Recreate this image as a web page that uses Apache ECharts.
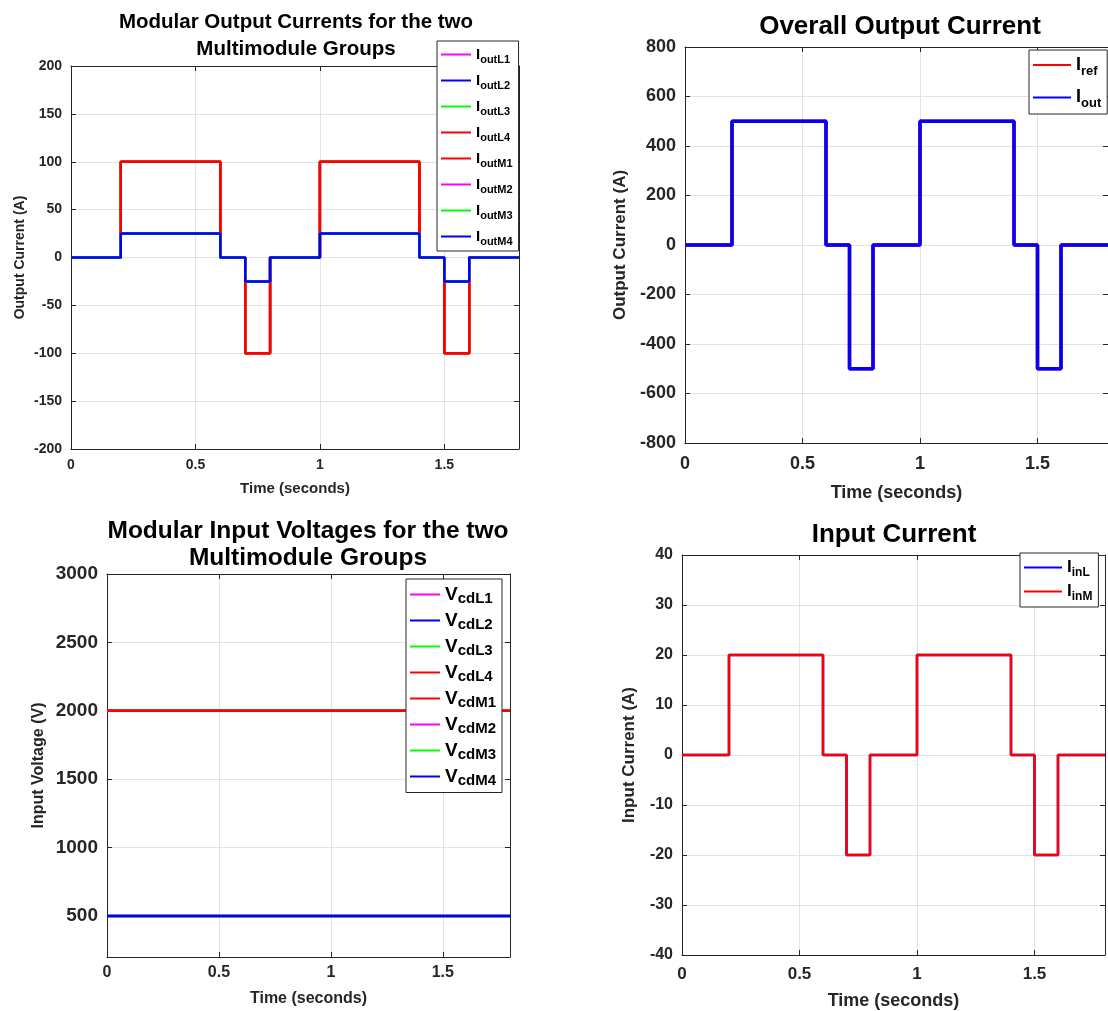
<!DOCTYPE html>
<html>
<head>
<meta charset="utf-8">
<script src="https://cdn.jsdelivr.net/npm/echarts@6/dist/echarts.min.js"></script>
<style>
  html, body { margin: 0; padding: 0; background: #fff; }
  #box { width: 1108px; height: 1011px; }
</style>
</head>
<body>
<div id="box"></div>
<script>
// time breakpoints of the step waveforms (seconds)
const tSteps = [0, 0.2, 0.6, 0.7, 0.8, 1.0, 1.4, 1.5, 1.6, 1.8];
const tFlat = [0, 1.8];

// modular output currents
const iModHigh = [0, 100, 0, -100, 0, 100, 0, -100, 0, 0];
const iModLow = [0, 25, 0, -25, 0, 25, 0, -25, 0, 0];
// overall output current
const iRef = [0, 500, 0, -500, 0, 500, 0, -500, 0, 0];
const iOut = [0, 500, 0, -500, 0, 500, 0, -500, 0, 0];
// modular input voltages
const vCdHigh = [2000, 2000];
const vCdLow = [500, 500];
// input currents
const iInL = [0, 20, 0, -20, 0, 20, 0, -20, 0, 0];
const iInM = [0, 20, 0, -20, 0, 20, 0, -20, 0, 0];

const modNames = ["I_outL1", "I_outL2", "I_outL3", "I_outL4", "I_outM1", "I_outM2", "I_outM3", "I_outM4"];
const modColors = ["#ff00ff", "#0000ff", "#00ff00", "#ff0000", "#ff0000", "#ff00ff", "#00ff00", "#0000ff"];
const modValues = [iModHigh, iModLow, iModHigh, iModHigh, iModHigh, iModLow, iModLow, iModLow];

const vNames = ["V_cdL1", "V_cdL2", "V_cdL3", "V_cdL4", "V_cdM1", "V_cdM2", "V_cdM3", "V_cdM4"];
const vValues = [vCdHigh, vCdLow, vCdHigh, vCdHigh, vCdHigh, vCdLow, vCdLow, vCdLow];

const xTicks = [0, 0.5, 1, 1.5];
const yTicks1 = [-200, -150, -100, -50, 0, 50, 100, 150, 200];
const yTicks2 = [-800, -600, -400, -200, 0, 200, 400, 600, 800];
const yTicks3 = [500, 1000, 1500, 2000, 2500, 3000];
const yTicks4 = [-40, -30, -20, -10, 0, 10, 20, 30, 40];

const FONT = "Liberation Sans, Arial, sans-serif";
const INK = "#262626";

function pair(t, v) {
  return t.map((x, i) => [x, v[i]]);
}

const myChart = echarts.init(document.getElementById("box"));

// x axes: bottom (labelled) + top (box edge)
function xPair(gi, fs, margin, nameGap, nameFs) {
  return [
    {
      type: "value", gridIndex: gi, min: 0, max: 1.8, position: "bottom",
      name: "Time (seconds)", nameLocation: "middle", nameGap: nameGap,
      nameTextStyle: { fontFamily: FONT, fontWeight: "bold", fontSize: nameFs, color: INK },
      axisLine: { onZero: false, lineStyle: { color: INK, width: 1 } },
      axisTick: { inside: true, length: 5, customValues: xTicks, lineStyle: { color: INK } },
      axisLabel: { customValues: xTicks, formatter: (v) => String(v), fontFamily: FONT, fontWeight: "bold", fontSize: fs, color: INK, margin: margin },
      splitLine: { show: true, lineStyle: { color: "#e3e3e3" } },
    },
    {
      type: "value", gridIndex: gi, min: 0, max: 1.8, position: "top",
      axisLine: { onZero: false, lineStyle: { color: INK, width: 1 } },
      axisTick: { inside: true, length: 5, customValues: xTicks, lineStyle: { color: INK } },
      axisLabel: { show: false },
      splitLine: { show: false },
    },
  ];
}

function yPair(gi, min, max, ticks, fs, name, nameGap, nameFs) {
  return [
    {
      type: "value", gridIndex: gi, min: min, max: max, position: "left",
      name: name, nameLocation: "middle", nameGap: nameGap,
      nameTextStyle: { fontFamily: FONT, fontWeight: "bold", fontSize: nameFs, color: INK },
      axisLine: { show: true, onZero: false, lineStyle: { color: INK, width: 1 } },
      axisTick: { show: true, inside: true, length: 5, customValues: ticks, lineStyle: { color: INK } },
      axisLabel: { customValues: ticks, formatter: (v) => String(v), fontFamily: FONT, fontWeight: "bold", fontSize: fs, color: INK, margin: 9 },
      splitLine: { show: true, lineStyle: { color: "#e3e3e3" } },
    },
    {
      type: "value", gridIndex: gi, min: min, max: max, position: "right",
      axisLine: { show: true, onZero: false, lineStyle: { color: INK, width: 1 } },
      axisTick: { show: true, inside: true, length: 5, customValues: ticks, lineStyle: { color: INK } },
      axisLabel: { show: false },
      splitLine: { show: false },
    },
  ];
}

function legendBox(names, pos, fs, subFs, itemW, gap, subPad) {
  return Object.assign({
    data: names,
    orient: "vertical",
    icon: "rect",
    itemWidth: itemW,
    itemHeight: 2,
    itemGap: gap,
    padding: [6, 6, 4, 4],
    backgroundColor: "#fff",
    borderColor: INK,
    borderWidth: 1,
    borderRadius: 0,
    selectedMode: false,
    formatter: (n) => {
      const parts = n.split("_");
      return "{a|" + parts[0] + "}{b|" + parts[1] + "}";
    },
    textStyle: {
      rich: {
        a: { fontFamily: FONT, fontWeight: "bold", fontSize: fs, color: "#000" },
        b: { fontFamily: FONT, fontWeight: "bold", fontSize: subFs, color: "#000", padding: [subPad, 0, 0, 0] },
      },
    },
  }, pos);
}

function stepLine(name, xi, yi, data, color, width) {
  return {
    type: "line", name: name, xAxisIndex: xi, yAxisIndex: yi,
    data: data, step: "end", showSymbol: false, symbol: "none",
    color: color, lineStyle: { color: color, width: width },
    animation: false, silent: true,
  };
}

const series = [];
modNames.forEach((n, i) => series.push(stepLine(n, 0, 0, pair(tSteps, modValues[i]), modColors[i], 2.5)));
series.push(stepLine("I_ref", 2, 2, pair(tSteps, iRef), "#ff0000", 3.5));
series.push(stepLine("I_out", 2, 2, pair(tSteps, iOut), "#0000ff", 3.5));
vNames.forEach((n, i) => series.push(stepLine(n, 4, 4, pair(tFlat, vValues[i]), modColors[i], 2.5)));
series.push(stepLine("I_inL", 6, 6, pair(tSteps, iInL), "#0000ff", 2.5));
series.push(stepLine("I_inM", 6, 6, pair(tSteps, iInM), "#ff0000", 2.5));

const titleStyle = (fs, lh) => ({ fontFamily: FONT, fontWeight: "bold", fontSize: fs, color: "#000", lineHeight: lh });

const option = {
  backgroundColor: "#fff",
  animation: false,
  title: [
    { text: "Modular Output Currents for the two\nMultimodule Groups", left: 296, top: 9, padding: 0, textAlign: "center", textStyle: titleStyle(20.5, 27) },
    { text: "Overall Output Current", left: 900, top: 12, padding: 0, textAlign: "center", textStyle: titleStyle(26, 30) },
    { text: "Modular Input Voltages for the two\nMultimodule Groups", left: 308, top: 518, padding: 0, textAlign: "center", textStyle: titleStyle(24.5, 27) },
    { text: "Input Current", left: 894, top: 520, padding: 0, textAlign: "center", textStyle: titleStyle(26, 30) },
  ],
  grid: [
    { left: 71, top: 66, width: 448, height: 383 },
    { left: 685, top: 47, width: 428, height: 396 },
    { left: 107, top: 574, width: 403, height: 383 },
    { left: 682, top: 555, width: 423, height: 400 },
  ],
  xAxis: [].concat(
    xPair(0, 14, 9, 32, 15),
    xPair(1, 18, 12, 41, 18),
    xPair(2, 16, 8, 34, 16),
    xPair(3, 17, 11, 37, 18)
  ),
  yAxis: [].concat(
    yPair(0, -200, 200, yTicks1, 14, "Output Current (A)", 44, 14),
    yPair(1, -800, 800, yTicks2, 18, "Output Current (A)", 56, 17),
    yPair(2, 200, 3000, yTicks3, 19, "Input Voltage (V)", 60, 16),
    yPair(3, -40, 40, yTicks4, 16, "Input Current (A)", 44, 17)
  ),
  legend: [
    legendBox(modNames, { left: 437, top: 41 }, 15, 11, 30, 8, 10),
    legendBox(["I_ref", "I_out"], { left: 1029, top: 50 }, 18, 13, 38, 11, 12),
    legendBox(vNames, { left: 406, top: 579 }, 19, 15, 30, 4.5, 9),
    legendBox(["I_inL", "I_inM"], { left: 1020, top: 553 }, 17, 12, 38, 4, 11),
  ],
  series: series,
};

myChart.setOption(option);
window.addEventListener("resize", () => {
  myChart.resize();
});
</script>
</body>
</html>
